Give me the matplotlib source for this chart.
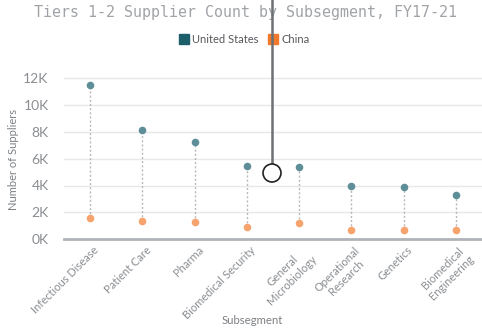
import matplotlib
matplotlib.use("Agg")
import matplotlib.pyplot as plt
import matplotlib.transforms as mtrans
from matplotlib.patches import Circle
from matplotlib.lines import Line2D
from matplotlib.ticker import FuncFormatter

categories = ["Infectious Disease", "Patient Care", "Pharma", "Biomedical Security",
              "General\nMicrobiology", "Operational\nResearch", "Genetics", "Biomedical\nEngineering"]
us_values = [11480, 8150, 7220, 5450, 5400, 3950, 3900, 3280]
china_values = [1550, 1350, 1280, 930, 1200, 680, 680, 680]
y_ticks = [0, 2000, 4000, 6000, 8000, 10000, 12000]

W, H = 482, 331
fig = plt.figure(figsize=(W / 100, H / 100), dpi=100)
ax_left, ax_right = 64 / W, 1.0
y0_px = 239
px_per_unit = 160.5 / 12000
ymax = 12500
top_px = y0_px - ymax * px_per_unit
ax = fig.add_axes([ax_left, 1 - y0_px / H, ax_right - ax_left, (y0_px - top_px) / H])

font = "Lato"
tick_color = "#8a8d91"
x = list(range(len(categories)))

for i in x:
    ax.plot([i, i], [china_values[i], us_values[i]], color="#b8b8b8", lw=1,
            linestyle=(0, (1.5, 1.5)), zorder=2)
ax.scatter(x, us_values, s=30, color="#5e8f99", zorder=3, linewidths=0)
ax.scatter(x, china_values, s=30, color="#f6a36e", zorder=3, linewidths=0)

ax.set_xlim(-0.5, len(categories) - 0.5)
ax.set_ylim(0, ymax)
ax.set_yticks(y_ticks)
ax.yaxis.set_major_formatter(FuncFormatter(lambda v, p: f"{int(v/1000)}K"))
ax.grid(axis="y", color="#e8e8e8", lw=1)
ax.set_axisbelow(True)
for s in ["top", "right", "left"]:
    ax.spines[s].set_visible(False)
ax.spines["bottom"].set_color("#b0b4b8")
ax.spines["bottom"].set_linewidth(2)
ax.tick_params(axis="y", length=0, pad=11, labelsize=10, labelcolor=tick_color)
ax.tick_params(axis="x", length=0, pad=4, labelsize=8, labelcolor=tick_color)
for lab in ax.get_yticklabels():
    lab.set_fontfamily(font)
ax.set_xticks(x)
ax.set_xticklabels(categories, rotation=45, ha="right", rotation_mode="anchor",
                   multialignment="center", fontfamily=font)
offset = mtrans.ScaledTranslation(3 / 100, 0, fig.dpi_scale_trans)
for lab in ax.get_xticklabels():
    lab.set_transform(lab.get_transform() + offset)

fig.text(14 / W, 1 - 160 / H, "Number of Suppliers", rotation=90, ha="center", va="center",
         fontfamily=font, fontsize=8, color="#7d8084")
fig.text(252 / W, 1 - 321 / H, "Subsegment", ha="center", va="center",
         fontfamily=font, fontsize=8.2, color="#7d8084")

fig.text(245 / W, 1 - 12 / H, "Tiers 1-2 Supplier Count by Subsegment, FY17-21",
         ha="center", va="center", fontfamily="DejaVu Sans Mono", fontsize=10.8,
         color="#a0a3a7")

# legend
fig.patches.append(plt.Rectangle((179 / W, 1 - 44 / H), 10 / W, 10 / H,
                                 transform=fig.transFigure, color="#1c5f6b"))
fig.text(192.5 / W, 1 - 39.5 / H, "United States", ha="left", va="center",
         fontfamily=font, fontsize=8, color="#55585c")
fig.patches.append(plt.Rectangle((268 / W, 1 - 44 / H), 10 / W, 10 / H,
                                 transform=fig.transFigure, color="#f07a29"))
fig.text(282 / W, 1 - 39.5 / H, "China", ha="left", va="center",
         fontfamily=font, fontsize=8, color="#55585c")

# cursor marker
fig.add_artist(Line2D([272 / W, 272 / W], [1.0, 1 - 164 / H], transform=fig.transFigure,
                      color="#6d7075", lw=1.8, zorder=10))
fig.add_artist(Circle((272, H - 173), 9, transform=None, facecolor="white",
                      edgecolor="#222222", lw=1.2, zorder=11))

fig.savefig("out.png", dpi=100)
